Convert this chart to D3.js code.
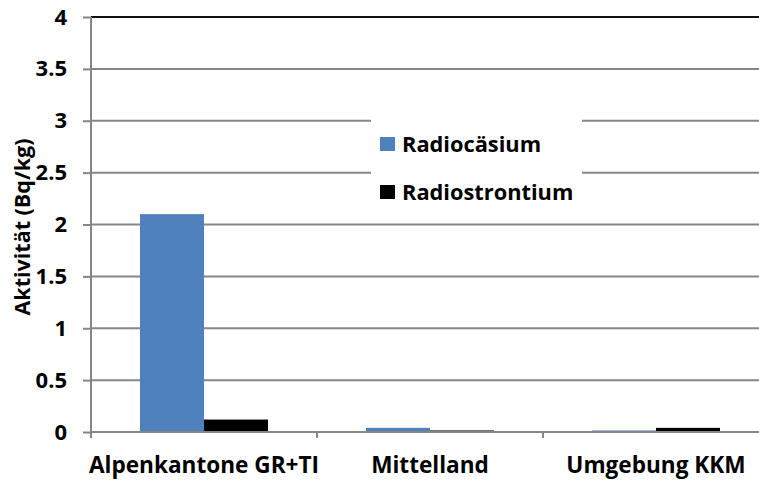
<!DOCTYPE html>
<html>
<head>
<meta charset="utf-8">
<script src="https://cdn.jsdelivr.net/npm/d3@7"></script>
<style>
  body { margin: 0; background: #fff; }
  text { font-family: "Open Sans", sans-serif; font-weight: bold; fill: #000; }
</style>
</head>
<body>
<svg id="svg1" width="759" height="481"></svg>
<script>
var categories = ["Alpenkantone GR+TI", "Mittelland", "Umgebung KKM"];
var series = ["Radiocäsium", "Radiostrontium"];
var caesium = [2.1, 0.04, 0.015];
var strontium = [0.12, 0.015, 0.04];
var yTicks = [0, 0.5, 1, 1.5, 2, 2.5, 3, 3.5, 4];
var colors = ["#4F81BD", "#000000"];

var svg = d3.select("#svg1"),
  margin = {top: 17, left: 91, bottom: 49},
  plotRight = 769,
  height = +svg.attr("height") - margin.top - margin.bottom;

var x0 = d3.scaleBand()
  .domain(categories)
  .range([margin.left, plotRight]);
var x1 = d3.scaleBand()
  .domain(series)
  .range([0, x0.bandwidth()])
  .paddingOuter(0.766);
var y = d3.scaleLinear()
  .domain([0, 4])
  .range([margin.top + height, margin.top]);

var data = categories.map(function(c, i) {
  return {cat: c, values: [caesium[i], strontium[i]]};
});

// gridlines
svg.append("g")
  .selectAll("line")
  .data(yTicks.filter(function(d) { return d > 0; }))
  .enter().append("line")
  .attr("x1", margin.left)
  .attr("x2", 759)
  .attr("y1", function(d) { return y(d); })
  .attr("y2", function(d) { return y(d); })
  .attr("stroke", function(d) { return d === 4 ? "#111" : "#868686"; })
  .attr("stroke-width", 2);

// y axis
var yAxis = svg.append("g")
  .attr("transform", "translate(" + margin.left + ",0)")
  .call(d3.axisLeft(y).tickValues(yTicks).tickSize(8).tickPadding(16)
    .tickFormat(function(d) { return d; }));
yAxis.select(".domain").remove();
yAxis.selectAll(".tick line").attr("stroke", "#868686").attr("stroke-width", 2);
yAxis.selectAll("text").attr("font-size", 22).style("font-family", "Open Sans");
svg.append("line")
  .attr("x1", margin.left).attr("x2", margin.left)
  .attr("y1", margin.top).attr("y2", y(0) + 6)
  .attr("stroke", "#868686").attr("stroke-width", 2);

// legend box (covers gridlines)
var legend = svg.append("g");
legend.append("rect")
  .attr("x", 371).attr("y", 114).attr("width", 211).attr("height", 96)
  .attr("fill", "#fff");
series.forEach(function(s, i) {
  legend.append("rect")
    .attr("x", 380).attr("y", 137 + i * 48).attr("width", 15).attr("height", 14)
    .attr("fill", colors[i]);
  legend.append("text")
    .attr("x", 402).attr("y", 152 + i * 48)
    .attr("font-size", 21.8)
    .text(s);
});

// bars
var groups = svg.append("g")
  .selectAll("g")
  .data(data)
  .enter().append("g")
  .attr("transform", function(d) { return "translate(" + x0(d.cat) + ",0)"; });
groups.selectAll("rect")
  .data(function(d) { return d.values.map(function(v, i) { return {s: series[i], v: v, i: i}; }); })
  .enter().append("rect")
  .attr("x", function(d) { return x1(d.s); })
  .attr("width", x1.bandwidth())
  .attr("y", function(d) { return y(d.v); })
  .attr("height", function(d) { return y(0) - y(d.v); })
  .attr("fill", function(d) { return colors[d.i]; });

// x axis
var xAxis = svg.append("g")
  .attr("transform", "translate(0," + y(0) + ")");
xAxis.append("line")
  .attr("x1", margin.left).attr("x2", 759)
  .attr("stroke", "#868686").attr("stroke-width", 2);
xAxis.selectAll(".sep")
  .data(categories)
  .enter().append("line")
  .attr("class", "sep")
  .attr("x1", function(d) { return x0(d); })
  .attr("x2", function(d) { return x0(d); })
  .attr("y1", 0).attr("y2", 6)
  .attr("stroke", "#868686").attr("stroke-width", 2);
xAxis.selectAll(".lab")
  .data(categories)
  .enter().append("text")
  .attr("class", "lab")
  .attr("x", function(d) { return x0(d) + x0.bandwidth() / 2; })
  .attr("y", 41)
  .attr("text-anchor", "middle")
  .attr("font-size", 22.6)
  .text(function(d) { return d; });

// y title
svg.append("text")
  .attr("transform", "translate(30,227) rotate(-90)")
  .attr("text-anchor", "middle")
  .attr("font-size", 21.5)
  .text("Aktivität (Bq/kg)");
</script>
</body>
</html>
